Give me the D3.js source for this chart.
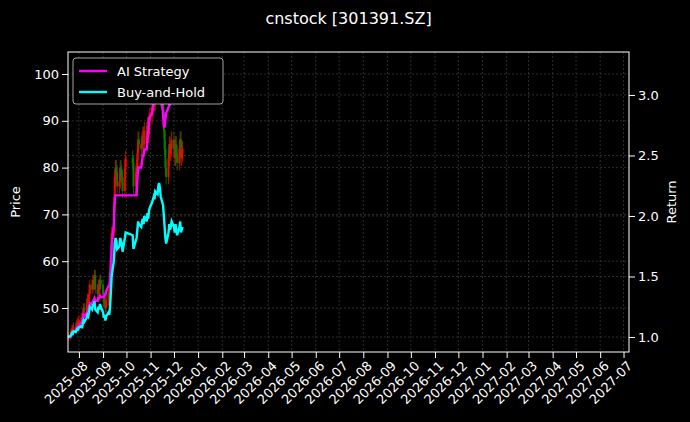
<!DOCTYPE html>
<html>
<head>
<meta charset="utf-8">
<script src="https://cdn.jsdelivr.net/npm/d3@7"></script>
<style>
  body { margin: 0; background: #000; }
  text { font-family: "DejaVu Sans", sans-serif; fill: #fff; }
</style>
</head>
<body>
<div id="chart"></div>
<script>
// daily closes, 2025-07-18 .. 2025-12-12 (weekdays, Oct 1-8 holiday skipped)
const closes = [
    44, 44.3, 44.8, 45.5, 45.2, 46, 45.8, 46.5, 47, 46.8,
    47.5, 48, 47.2, 49, 50, 49.5, 51, 52, 51.5, 53, 55, 54, 56, 55, 57, 54, 53, 55, 54, 56, 55,
    53, 51, 52, 50, 51.5, 53, 52, 55, 60, 66, 72, 78, 80, 79, 76, 77, 80, 79, 78, 75, 80, 82,
    81, 76, 79, 80, 83, 86, 85, 84, 86, 87, 85, 88, 86, 89, 87, 90, 91,
    93, 94, 95, 94, 97, 96, 99, 100, 98, 95, 92, 88, 84, 80, 78, 82, 85, 83, 84, 86,
    84, 82, 85, 83, 81, 84, 86, 82, 83, 84
];
const aiReturn = [
    1.0, 1.0, 1.01, 1.03, 1.03, 1.05, 1.05, 1.07, 1.08, 1.08,
    1.1, 1.12, 1.12, 1.15, 1.18, 1.17, 1.2, 1.22, 1.22, 1.25, 1.28, 1.27, 1.3, 1.3, 1.32, 1.3, 1.3, 1.32, 1.32, 1.34, 1.33,
    1.33, 1.33, 1.35, 1.35, 1.38, 1.42, 1.42, 1.48, 1.6, 1.75, 1.95, 2.15, 2.17, 2.17, 2.17, 2.17, 2.17, 2.17, 2.17, 2.17, 2.17, 2.17,
    2.17, 2.17, 2.17, 2.17, 2.3, 2.4, 2.4, 2.4, 2.45, 2.5, 2.5, 2.55, 2.55, 2.65, 2.7, 2.8, 2.82,
    2.85, 2.9, 2.95, 2.95, 3.05, 3.05, 3.12, 3.18, 3.15, 3.0, 2.85, 2.74, 2.74, 2.8, 2.85, 2.9, 2.92, 2.92, 2.94, 2.96,
    2.97, 2.98, 3.0, 3.0, 3.0, 3.01, 3.01, 3.02, 3.02, 3.02
];
const priceTicks = [50, 60, 70, 80, 90, 100];
const returnTicks = [1.0, 1.5, 2.0, 2.5, 3.0];

// trading days
const dates = d3.timeDay.range(new Date(2025, 6, 18), new Date(2025, 11, 13))
    .filter(d => d.getDay() !== 0 && d.getDay() !== 6)
    .filter(d => !(d.getMonth() === 9 && d.getDate() <= 8));

const data = dates.map((d, i) => {
    let c = closes[i];
    let o = i > 0 ? closes[i - 1] : c;
    return {date: d, open: o, close: c,
        high: Math.max(o, c) * 1.02, low: Math.min(o, c) * 0.98,
        ai: aiReturn[i], bh: c / closes[0]};
});

const W = 690, H = 422;
const margin = {top: 52, right: 61, bottom: 70, left: 68};

const svg = d3.select("#chart").append("svg")
    .attr("width", W).attr("height", H)
    .style("background", "#000");

const x = d3.scaleTime()
    .domain([new Date(2025, 6, 18), new Date(2027, 6, 8)])
    .range([margin.left, W - margin.right]);
const yP = d3.scaleLinear().domain([40.6, 104.7]).range([H - margin.bottom, margin.top]);
const yR = d3.scaleLinear().domain([0.876, 3.355]).range([H - margin.bottom, margin.top]);

const months = d3.timeMonth.range(new Date(2025, 7, 1), new Date(2027, 6, 2));

// grid
const grid = svg.append("g").attr("stroke", "#4a4a4a").attr("stroke-width", 0.6)
    .attr("stroke-dasharray", "2,2");
months.forEach(m => grid.append("line")
    .attr("x1", x(m)).attr("x2", x(m)).attr("y1", margin.top).attr("y2", H - margin.bottom));
priceTicks.forEach(t => grid.append("line")
    .attr("x1", margin.left).attr("x2", W - margin.right).attr("y1", yP(t)).attr("y2", yP(t)));
returnTicks.forEach(t => grid.append("line")
    .attr("x1", margin.left).attr("x2", W - margin.right).attr("y1", yR(t)).attr("y2", yR(t)));

// candles
const candles = svg.append("g");
data.forEach(d => {
    let col = d.close >= d.open ? "#ff0000" : "#008000";
    candles.append("line")
        .attr("x1", x(d.date)).attr("x2", x(d.date))
        .attr("y1", yP(d.high)).attr("y2", yP(d.low))
        .attr("stroke", col).attr("stroke-width", 0.8);
    candles.append("rect")
        .attr("x", x(d.date) - 1).attr("width", 2)
        .attr("y", yP(Math.max(d.open, d.close)))
        .attr("height", Math.max(0.6, Math.abs(yP(d.open) - yP(d.close))))
        .attr("fill", col);
});

// return lines
const lineAI = d3.line().x(d => x(d.date)).y(d => yR(d.ai));
const lineBH = d3.line().x(d => x(d.date)).y(d => yR(d.bh));
svg.append("path").datum(data).attr("d", lineAI)
    .attr("fill", "none").attr("stroke", "#ff00ff").attr("stroke-width", 2.4);
svg.append("path").datum(data).attr("d", lineBH)
    .attr("fill", "none").attr("stroke", "#00ffff").attr("stroke-width", 2.4);

// frame
svg.append("rect").attr("x", margin.left).attr("y", margin.top)
    .attr("width", W - margin.left - margin.right).attr("height", H - margin.top - margin.bottom)
    .attr("fill", "none").attr("stroke", "#fff").attr("stroke-width", 1);

// axes
const styleAxis = g => {
    g.select(".domain").remove();
    g.selectAll(".tick line").attr("stroke", "#fff");
    g.selectAll(".tick text").attr("fill", "#fff").style("font-size", "13px")
        .style("font-family", "DejaVu Sans, sans-serif");
};
svg.append("g").attr("transform", `translate(0,${H - margin.bottom})`)
    .call(d3.axisBottom(x).tickValues(months).tickFormat(d3.timeFormat("%Y-%m")).tickSizeOuter(0))
    .call(styleAxis)
    .selectAll(".tick text")
    .attr("text-anchor", "end").attr("dx", "-0.3em").attr("dy", "0.6em")
    .attr("transform", "rotate(-45)");
svg.append("g").attr("transform", `translate(${margin.left},0)`)
    .call(d3.axisLeft(yP).tickValues(priceTicks).tickSizeOuter(0)).call(styleAxis);
svg.append("g").attr("transform", `translate(${W - margin.right},0)`)
    .call(d3.axisRight(yR).tickValues(returnTicks).tickFormat(d3.format(".1f")).tickSizeOuter(0))
    .call(styleAxis);

// labels
svg.append("text").attr("x", (margin.left + W - margin.right) / 2).attr("y", 24)
    .attr("text-anchor", "middle").style("font-size", "16px").text("cnstock [301391.SZ]");
svg.append("text").attr("transform", `translate(20,${(margin.top + H - margin.bottom) / 2}) rotate(-90)`)
    .attr("text-anchor", "middle").style("font-size", "13px").text("Price");
svg.append("text").attr("transform", `translate(${W - 14},${(margin.top + H - margin.bottom) / 2}) rotate(-90)`)
    .attr("text-anchor", "middle").style("font-size", "13px").text("Return");

// legend
const lg = svg.append("g").attr("transform", `translate(${margin.left + 5},${margin.top + 6})`);
lg.append("rect").attr("width", 150).attr("height", 46).attr("rx", 3)
    .attr("fill", "#000").attr("stroke", "#ccc").attr("stroke-width", 0.8);
[["AI Strategy", "#ff00ff"], ["Buy-and-Hold", "#00ffff"]].forEach(([name, col], i) => {
    lg.append("line").attr("x1", 6).attr("x2", 34).attr("y1", 13 + i * 21).attr("y2", 13 + i * 21)
        .attr("stroke", col).attr("stroke-width", 2.4);
    lg.append("text").attr("x", 44).attr("y", 17.5 + i * 21).style("font-size", "13px").text(name);
});
</script>
</body>
</html>
